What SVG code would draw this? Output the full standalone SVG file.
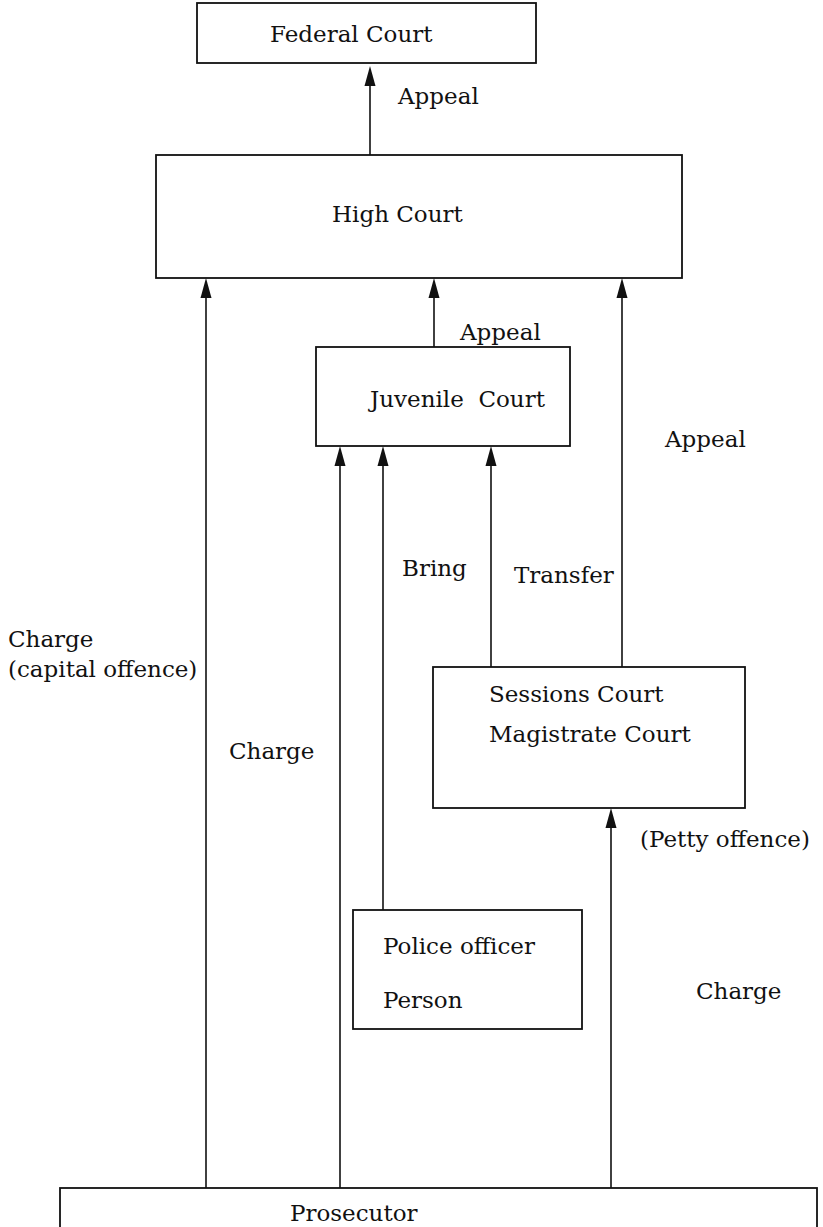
<svg xmlns="http://www.w3.org/2000/svg" width="823" height="1227" viewBox="0 0 823 1227">
  <style>
    .box { fill: #fff; stroke: #111; stroke-width: 1.8; }
    .lbl { font-family: "DejaVu Serif", "Liberation Serif", serif; font-size: 23px; fill: #111; }
    .edge { stroke: #111; stroke-width: 1.6; fill: none; }
    .head { fill: #111; }
  </style>
  <rect width="823" height="1227" fill="#fff"/>

  <!-- connectors: every line runs upward, a filled head at its upper end -->
  <g id="connectors">
    <line class="edge" x1="370" y1="155" x2="370" y2="70"/>
    <path class="head" d="M370 66 L375.5 86 L364.5 86 Z"/>
    <line class="edge" x1="206" y1="1188" x2="206" y2="290"/>
    <path class="head" d="M206 278 L211.5 298 L200.5 298 Z"/>
    <line class="edge" x1="434" y1="347" x2="434" y2="290"/>
    <path class="head" d="M434 278 L439.5 298 L428.5 298 Z"/>
    <line class="edge" x1="622" y1="667" x2="622" y2="290"/>
    <path class="head" d="M622 278 L627.5 298 L616.5 298 Z"/>
    <line class="edge" x1="340" y1="1188" x2="340" y2="458"/>
    <path class="head" d="M340 446 L345.5 466 L334.5 466 Z"/>
    <line class="edge" x1="383" y1="910" x2="383" y2="458"/>
    <path class="head" d="M383 446 L388.5 466 L377.5 466 Z"/>
    <line class="edge" x1="491" y1="667" x2="491" y2="458"/>
    <path class="head" d="M491 446 L496.5 466 L485.5 466 Z"/>
    <line class="edge" x1="611" y1="1188" x2="611" y2="820"/>
    <path class="head" d="M611 808 L616.5 828 L605.5 828 Z"/>

    <text class="lbl" x="398" y="104">Appeal</text>
    <text class="lbl" x="460" y="340">Appeal</text>
    <text class="lbl" x="665" y="447">Appeal</text>
    <text class="lbl" x="402" y="576">Bring</text>
    <text class="lbl" x="514" y="583">Transfer</text>
    <text class="lbl" x="8" y="647">Charge</text>
    <text class="lbl" x="8" y="677">(capital offence)</text>
    <text class="lbl" x="229" y="759">Charge</text>
    <text class="lbl" x="640" y="847">(Petty offence)</text>
    <text class="lbl" x="696" y="999">Charge</text>
  </g>

  <g id="federal-court">
    <rect class="box" x="197" y="3" width="339" height="60"/>
    <text class="lbl" x="270" y="42">Federal Court</text>
  </g>
  <g id="high-court">
    <rect class="box" x="156" y="155" width="526" height="123"/>
    <text class="lbl" x="332" y="222">High Court</text>
  </g>
  <g id="juvenile-court">
    <rect class="box" x="316" y="347" width="254" height="99"/>
    <text class="lbl" x="370" y="407" xml:space="preserve">Juvenile  Court</text>
  </g>
  <g id="sessions-magistrate-court">
    <rect class="box" x="433" y="667" width="312" height="141"/>
    <text class="lbl" x="489" y="702">Sessions Court</text>
    <text class="lbl" x="489" y="742">Magistrate Court</text>
  </g>
  <g id="police-person">
    <rect class="box" x="353" y="910" width="229" height="119"/>
    <text class="lbl" x="383" y="954">Police officer</text>
    <text class="lbl" x="383" y="1008">Person</text>
  </g>
  <g id="prosecutor">
    <rect class="box" x="60" y="1188" width="757" height="60"/>
    <text class="lbl" x="290" y="1221">Prosecutor</text>
  </g>
</svg>
